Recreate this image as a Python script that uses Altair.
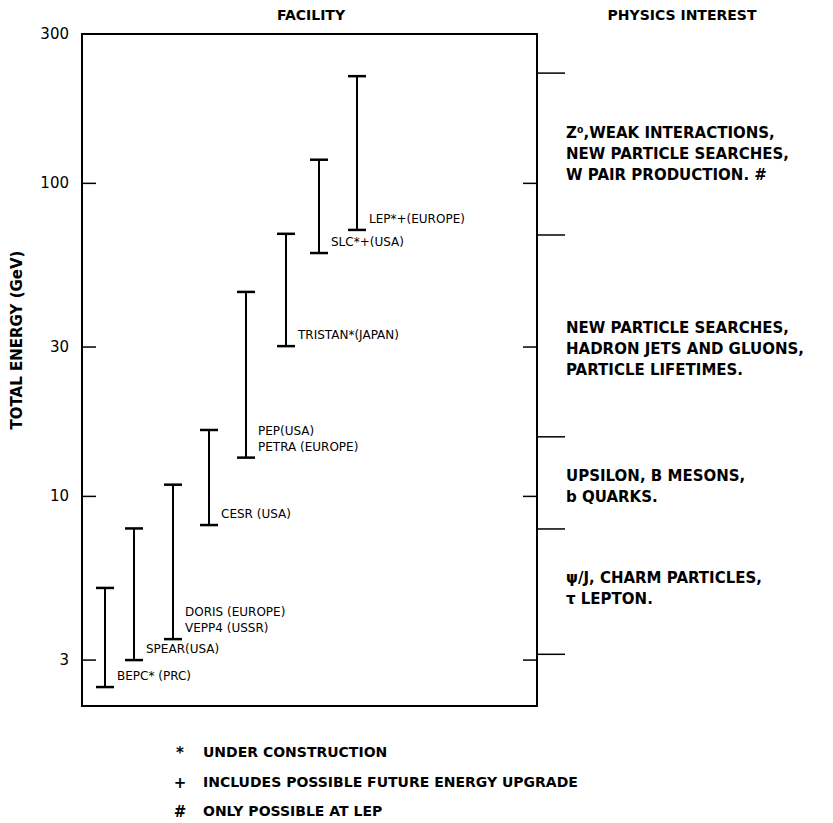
import altair as alt
import pandas as pd

# ---- data ----
label_lower = ["BEPC* (PRC)", "SPEAR(USA)", "VEPP4 (USSR)", "CESR (USA)",
               "PETRA (EUROPE)", "TRISTAN*(JAPAN)", "SLC*+(USA)", "LEP*+(EUROPE)"]
label_upper = ["", "", "DORIS (EUROPE)", "", "PEP(USA)", "", "", ""]
facility_x = [23, 52, 91, 127, 164, 204, 237, 275]       # horizontal slot of each facility
energy_low = [2.46, 3.0, 3.5, 8.1, 13.3, 30.2, 59.9, 71.0]
energy_high = [5.1, 7.9, 10.9, 16.3, 45.0, 69.0, 119.0, 220.0]

axis_ticks = [3, 10, 30, 100, 300]
inner_ticks = [3, 10, 30, 100]
band_edges = [225, 68.4, 15.5, 7.87, 3.13]

physics_text = [
    "Z⁰,WEAK INTERACTIONS,\nNEW PARTICLE SEARCHES,\nW PAIR PRODUCTION. #",
    "NEW PARTICLE SEARCHES,\nHADRON JETS AND GLUONS,\nPARTICLE  LIFETIMES.",
    "UPSILON, B MESONS,\nb QUARKS.",
    "ψ/J, CHARM PARTICLES,\nτ LEPTON.",
]
physics_energy = [144.8, 34.5, 11.6, 5.48]   # energy level of each block's first line

foot_symbols = ["*", "+", "#"]
foot_text = ["UNDER  CONSTRUCTION", "INCLUDES  POSSIBLE  FUTURE  ENERGY  UPGRADE", "ONLY  POSSIBLE  AT  LEP"]

# ---- layout ----
W, H = 455, 672
FONT = "DejaVu Sans"
xs = alt.Scale(domain=[0, W])
ys = alt.Scale(type="log", domain=[2.14, 300], nice=False, zero=False)

fac = pd.DataFrame({"x": facility_x, "lo": energy_low, "hi": energy_high,
                    "l1": label_lower, "l2": label_upper})
fac["cl"] = fac["x"] - 9
fac["cr"] = fac["x"] + 9
caps = pd.concat([
    fac[["cl", "cr", "lo"]].rename(columns={"lo": "e"}),
    fac[["cl", "cr", "hi"]].rename(columns={"hi": "e"}),
])

X = lambda f: alt.X(f, type="quantitative", scale=xs, axis=None)
Y = lambda f: alt.Y(f, type="quantitative", scale=ys, axis=None)

bars = alt.Chart(fac).mark_rule(color="black", strokeWidth=2).encode(
    x=X("x"), y=Y("lo"), y2="hi:Q",
)
cap_rules = alt.Chart(caps).mark_rule(color="black", strokeWidth=2.5).encode(
    x=X("cl"), x2="cr:Q", y=Y("e"),
)
lab_lo = alt.Chart(fac).mark_text(
    align="left", baseline="middle", dx=12, dy=-11,
    font=FONT, fontSize=12, color="black",
).encode(x=X("x"), y=Y("lo"), text="l1:N")
lab_hi = alt.Chart(fac).mark_text(
    align="left", baseline="middle", dx=12, dy=-27,
    font=FONT, fontSize=12, color="black",
).encode(x=X("x"), y=Y("lo"), text="l2:N")

ticklab = alt.Chart(pd.DataFrame({"e": axis_ticks})).mark_text(
    align="right", baseline="middle", font=FONT, fontSize=15, color="black",
).encode(x=alt.value(-13), y=Y("e"), text=alt.Text("e:Q", format="d"))

inner = pd.DataFrame({"e": inner_ticks})
tick_df = pd.concat([
    inner.assign(a=0, b=14),
    inner.assign(a=W - 14, b=W),
    pd.DataFrame({"e": band_edges}).assign(a=W, b=W + 28),
])
tick_rules = alt.Chart(tick_df).mark_rule(color="black", strokeWidth=1.5).encode(
    x=X("a"), x2="b:Q", y=Y("e"),
)

phys = pd.DataFrame({"t": physics_text, "e": physics_energy, "x": [W + 29] * 4})
phys_text = alt.Chart(phys).mark_text(
    align="left", baseline="middle", lineBreak="\n", lineHeight=21,
    font=FONT, fontSize=15, fontWeight="bold", color="black",
).encode(x=X("x"), y=Y("e"), text="t:N")

headers = pd.DataFrame({"t": ["FACILITY", "PHYSICS  INTEREST"], "px": [229, 600], "py": [-18, -18]})
head_text = alt.Chart(headers).mark_text(
    align="center", baseline="middle", font=FONT, fontSize=14, fontWeight="bold", color="black",
).encode(x=alt.X("px:Q", scale=None), y=alt.Y("py:Q", scale=None), text="t:N")

ytitle = alt.Chart(pd.DataFrame({"t": ["TOTAL   ENERGY    (GeV)"]})).mark_text(
    angle=270, align="center", baseline="middle", font=FONT, fontSize=15, fontWeight="bold", color="black",
).encode(x=alt.value(-65), y=alt.value(306), text="t:N")

foot = pd.DataFrame({"s": foot_symbols, "t": foot_text, "py": [719, 749, 778]})
foot_sym = alt.Chart(foot).mark_text(
    align="center", baseline="middle", font=FONT, fontSize=15, fontWeight="bold", color="black",
).encode(x=alt.value(98), y=alt.Y("py:Q", scale=None), text="s:N")
foot_txt = alt.Chart(foot).mark_text(
    align="left", baseline="middle", font=FONT, fontSize=14, fontWeight="bold", color="black",
).encode(x=alt.value(121), y=alt.Y("py:Q", scale=None), text="t:N")

chart = alt.layer(
    bars, cap_rules, lab_lo, lab_hi, ticklab, tick_rules, phys_text,
    head_text, ytitle, foot_sym, foot_txt,
).properties(
    width=W, height=H,
    autosize=alt.AutoSizeParams(type="none"),
    padding={"left": 74, "top": 26, "right": 280, "bottom": 117},
).configure_view(
    stroke="black", strokeWidth=2,
)

chart.save("out.html", embed_options={"renderer": "svg", "actions": False})
